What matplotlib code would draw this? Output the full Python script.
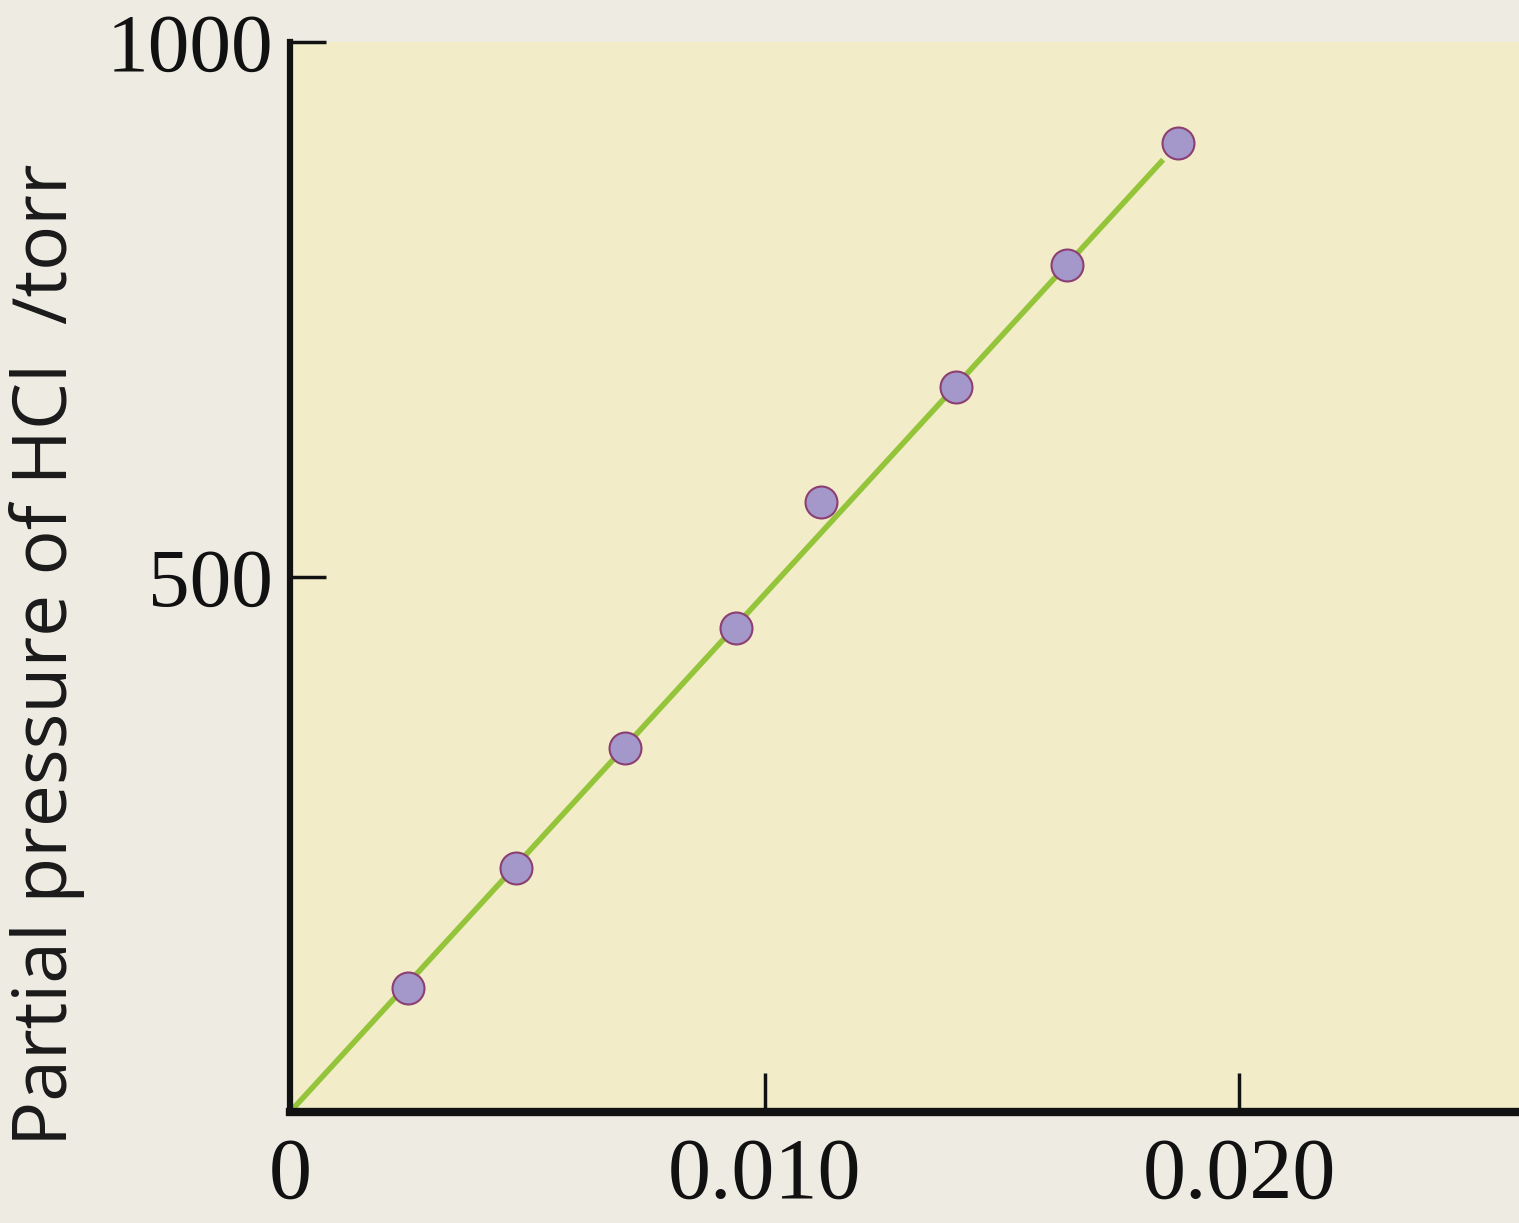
import matplotlib
matplotlib.use("Agg")
import matplotlib.pyplot as plt
import numpy as np

# Data
conc = [0.00249, 0.00477, 0.00707, 0.00939, 0.01118, 0.01403, 0.01637, 0.01871]
pressure = [116, 228, 340, 452, 570, 678, 792, 906]
fit_x = [0.0, 0.0184]
fit_y = [0.0, 890.0]

xticks = [0.0, 0.010, 0.020]
xtick_labels = ["0", "0.010", "0.020"]
yticks = [500, 1000]
ytick_labels = ["500", "1000"]
ylabel = "Partial pressure of HCl  /torr"

fig = plt.figure(figsize=(15.19, 12.23), dpi=100)
fig.patch.set_facecolor("#eeebe3")
ax = fig.add_axes([290 / 1519, 111 / 1223, (1519 - 290) / 1519, (1112 - 42) / 1223])
ax.set_facecolor("#f2edc8")

ax.plot(fit_x, fit_y, color="#94c43a", lw=4, solid_capstyle="butt", zorder=2)
ax.plot(conc, pressure, "o", ms=23, markerfacecolor="#a497c9",
        markeredgecolor="#8c3f73", markeredgewidth=1.5, zorder=3)

ax.set_xlim(0, 0.0259)
ax.set_ylim(0, 1000)
for s in ["top", "right"]:
    ax.spines[s].set_visible(False)
ax.spines["left"].set_linewidth(4.5)
ax.spines["bottom"].set_linewidth(6)
ax.spines["left"].set_color("#111111")
ax.spines["bottom"].set_color("#111111")

ax.set_xticks(xticks)
ax.set_xticklabels(xtick_labels, fontfamily="Liberation Serif", fontsize=62, color="#111111")
ax.set_yticks(yticks)
ax.set_yticklabels(ytick_labels, fontfamily="Liberation Serif", fontsize=60, color="#111111")
ax.tick_params(axis="x", direction="in", length=28, width=2.5, pad=18, color="#111111")
ax.tick_params(axis="y", direction="in", length=26, width=2.5, pad=12, color="#111111")
ax.xaxis.get_major_ticks()[0].tick1line.set_visible(False)

fig.text(47 / 1519, 1 - 655 / 1223, ylabel, rotation=90, ha="center", va="center",
         fontfamily="Open Sans", fontsize=54, color="#1a1a1a")

fig.savefig("out.png", dpi=100, facecolor=fig.get_facecolor())
